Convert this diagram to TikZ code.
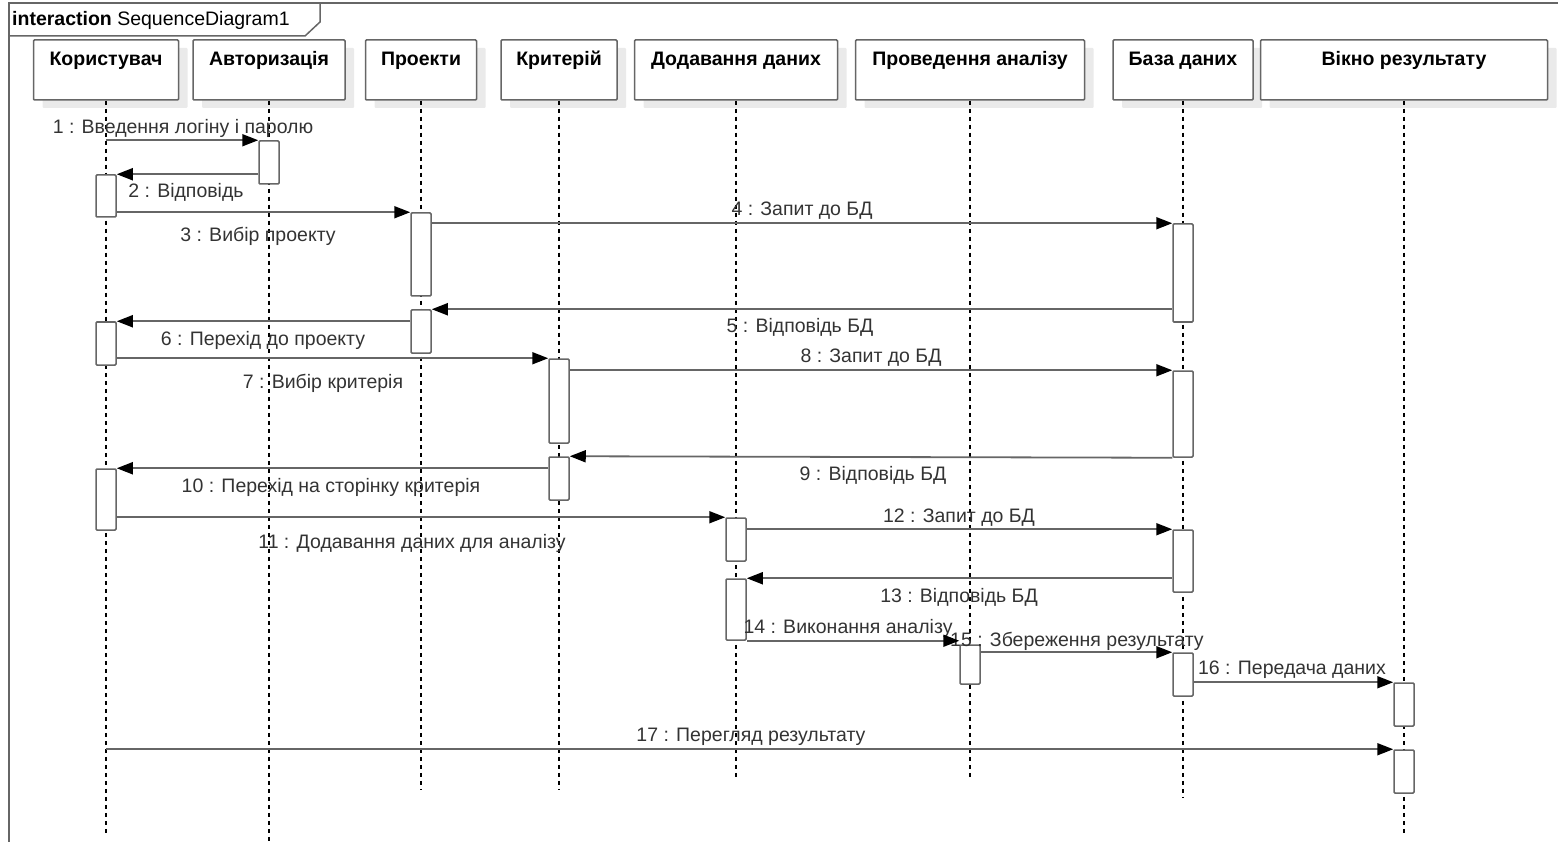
\documentclass[tikz,border=0pt]{standalone}
\usepackage{fontspec}
\setmainfont{Liberation Sans}
\usetikzlibrary{arrows.meta,shadows}
\definecolor{lineGray}{RGB}{102,102,102}
\definecolor{textGray}{RGB}{51,51,51}
\definecolor{shadowGray}{RGB}{234,234,234}

\begin{document}
\begin{tikzpicture}[x=1pt,y=1pt,yscale=-1,
  head/.style={draw=lineGray, line width=1.5pt, fill=white, inner sep=0pt,
    text height=26pt, text depth=34pt, rounded corners=1pt,
    font=\fontsize{19.5}{22}\selectfont\bfseries,
    drop shadow={shadow xshift=9pt, shadow yshift=-8pt, fill=shadowGray, opacity=1}},
  act/.style={draw=lineGray, fill=white, line width=1.5pt, minimum width=20pt,
    inner sep=0pt, rounded corners=1pt},
  life/.style={draw=black, line width=1.2pt, dash pattern=on 4pt off 4pt},
  msg/.style={draw=lineGray, line width=1.8pt,
    -{Triangle[length=16pt,width=12pt,color=black]}},
  lbl/.style={text=textGray, inner sep=0pt, font=\fontsize{19.5}{22}\selectfont}]
\useasboundingbox (0,0) rectangle (1558,842);

% Frame
\draw [lineGray, line width=1.8pt] (9,842) -- (9,3) -- (1558,3);
\draw [lineGray, line width=1.5pt] (9,36) -- (305,36) -- (320,22) -- (320,3);
\node [anchor=west, inner sep=0pt, font=\fontsize{19.5}{22}\selectfont] (frameLbl) at (12,20)
  {\textbf{interaction} SequenceDiagram1};

% Lifeline heads
\node [head, minimum width=145pt] (user) at (106,70) {Користувач};
\node [head, minimum width=152pt] (auth) at (269,70) {Авторизація};
\node [head, minimum width=111pt] (proj) at (421,70) {Проекти};
\node [head, minimum width=116pt] (crit) at (559,70) {Критерій};
\node [head, minimum width=203pt] (add) at (736,70) {Додавання даних};
\node [head, minimum width=229pt] (anal) at (970,70) {Проведення аналізу};
\node [head, minimum width=140pt] (db) at (1183,70) {База даних};
\node [head, minimum width=287pt] (win) at (1404,70) {Вікно результату};

% Lifeline ends
\coordinate (userEnd) at (user |- 0,835);
\coordinate (authEnd) at (auth |- 0,842);
\coordinate (projEnd) at (proj |- 0,790);
\coordinate (critEnd) at (crit |- 0,790);
\coordinate (addEnd) at (add |- 0,778);
\coordinate (analEnd) at (anal |- 0,778);
\coordinate (dbEnd) at (db |- 0,797);
\coordinate (winEnd) at (win |- 0,835);

\foreach \n in {user,auth,proj,crit,add,anal,db,win}
  \draw [life] (\n.south) -- (\n End);

% Activations
\node [act, minimum height=43pt] (a1) at (auth |- 0,162.5) {};
\node [act, minimum height=42pt] (a2) at (user |- 0,196) {};
\node [act, minimum height=83pt] (a3) at (proj |- 0,254.5) {};
\node [act, minimum height=98pt] (a4) at (db |- 0,273) {};
\node [act, minimum height=43pt] (a5) at (proj |- 0,331.5) {};
\node [act, minimum height=43pt] (a6) at (user |- 0,343.5) {};
\node [act, minimum height=84pt] (a7) at (crit |- 0,401) {};
\node [act, minimum height=86pt] (a8) at (db |- 0,414) {};
\node [act, minimum height=43pt] (a9) at (crit |- 0,478.5) {};
\node [act, minimum height=61pt] (a10) at (user |- 0,499.5) {};
\node [act, minimum height=43pt] (a11) at (add |- 0,539.5) {};
\node [act, minimum height=62pt] (a12) at (db |- 0,561) {};
\node [act, minimum height=61pt] (a13) at (add |- 0,609.5) {};
\node [act, minimum height=39pt] (a14) at (anal |- 0,664.5) {};
\node [act, minimum height=43pt] (a15) at (db |- 0,674.5) {};
\node [act, minimum height=43pt] (a16) at (win |- 0,704.5) {};
\node [act, minimum height=43pt] (a17) at (win |- 0,771.5) {};

% Text Node
\node [lbl] (m1) at (183,128) {1 : Введення логіну і паролю};
\node [lbl] (m2) at (186,192) {2 : Відповідь};
\node [lbl] (m3) at (258,236) {3 : Вибір проекту};
\node [lbl] (m4) at (802,211) {4 : Запит до БД};
\node [lbl] (m5) at (800,327) {5 : Відповідь БД};
\node [lbl] (m6) at (263,340) {6 : Перехід до проекту};
\node [lbl] (m7) at (323,383) {7 : Вибір критерія};
\node [lbl] (m8) at (871,358) {8 : Запит до БД};
\node [lbl] (m9) at (873,475) {9 : Відповідь БД};
\node [lbl] (m10) at (331,487) {10 : Перехід на сторінку критерія};
\node [lbl] (m11) at (412,543) {11 : Додавання даних для аналізу};
\node [lbl] (m12) at (959,518) {12 : Запит до БД};
\node [lbl] (m13) at (959,597) {13 : Відповідь БД};
\node [lbl] (m14) at (848,628) {14 : Виконання аналізу};
\node [lbl] (m15) at (1077,641) {15 : Збереження результату};
\node [lbl] (m16) at (1292,670) {16 : Передача даних};
\node [lbl] (m17) at (751,737) {17 : Перегляд результату};

% Messages
\draw [msg] (user |- a1.north) -- (a1.north west);
\draw [msg] (a1.west |- a2.north) -- (a2.north east);
\draw [msg] (a2.east |- a3.north) -- (a3.north west);
\draw [msg] (a3.east |- a4.north) -- (a4.north west);
\draw [msg] (a4.west |- a5.north) -- (a5.north east);
\draw [msg] (a5.west |- a6.north) -- (a6.north east);
\draw [msg] (a6.east |- a7.north) -- (a7.north west);
\draw [msg] (a7.east |- a8.north) -- (a8.north west);
\draw [msg] (a8.south west) -- (a9.north east);
\draw [msg] (a9.west |- a10.north) -- (a10.north east);
\draw [msg] (a10.east |- a11.north) -- (a11.north west);
\draw [msg] (a11.east |- a12.north) -- (a12.north west);
\draw [msg] (a12.west |- a13.north) -- (a13.north east);
\draw [msg] (a13.south east) -- (a14.west |- a13.south);
\draw [msg] (a14.east |- a15.north) -- (a15.north west);
\draw [msg] (a15.east |- a16.north) -- (a16.north west);
\draw [msg] (user |- a17.north) -- (a17.north west);

\end{tikzpicture}
\end{document}
